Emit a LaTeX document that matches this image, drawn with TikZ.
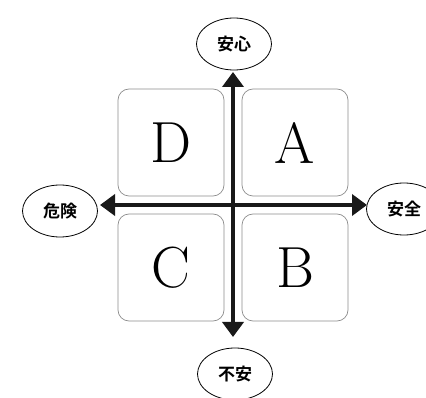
\documentclass[tikz,border=0pt]{standalone}
\usepackage{fontspec}
\newfontfamily\cjk{Noto Sans CJK JP}[BoldFont={* Bold}]
\usetikzlibrary{arrows.meta,shapes.geometric}
\tikzset{
  quad/.style={draw=black!45, line width=0.7pt, rounded corners=11pt, minimum width=106pt, minimum height=107pt, inner sep=0pt, font=\fontsize{58}{58}\selectfont},
  pole/.style={draw=black, line width=0.8pt, shape=ellipse, minimum width=75pt, minimum height=52pt, inner sep=0pt, font=\cjk\bfseries\fontsize{17}{17}\selectfont},
  axis/.style={draw=black!90, line width=4.5pt, -{Triangle[width=21pt,length=15pt]}}
}
\begin{document}
\begin{tikzpicture}[x=1pt,y=-1pt]
\useasboundingbox (0,0) rectangle (426,398);
\node[quad] (D) at (171,142.5) {D};
\node[quad] (A) at (295,142.5) {A};
\node[quad] (C) at (171,267.5) {C};
\node[quad] (B) at (295,267.5) {B};
\node[pole] (top) at (234,44) {安心};
\node[pole] (left) at (60,211) {危険};
\node[pole] (right) at (404,209) {安全};
\node[pole] (bottom) at (235,374) {不安};
\coordinate (o) at (233,205);
\coordinate (tT) at (233,72);
\coordinate (tB) at (233,337);
\coordinate (tL) at (100,205);
\coordinate (tR) at (367,205);
\draw[axis] (o) -- (tT);
\draw[axis] (o) -- (tB);
\draw[axis] (o) -- (tL);
\draw[axis] (o) -- (tR);
\end{tikzpicture}
\end{document}
